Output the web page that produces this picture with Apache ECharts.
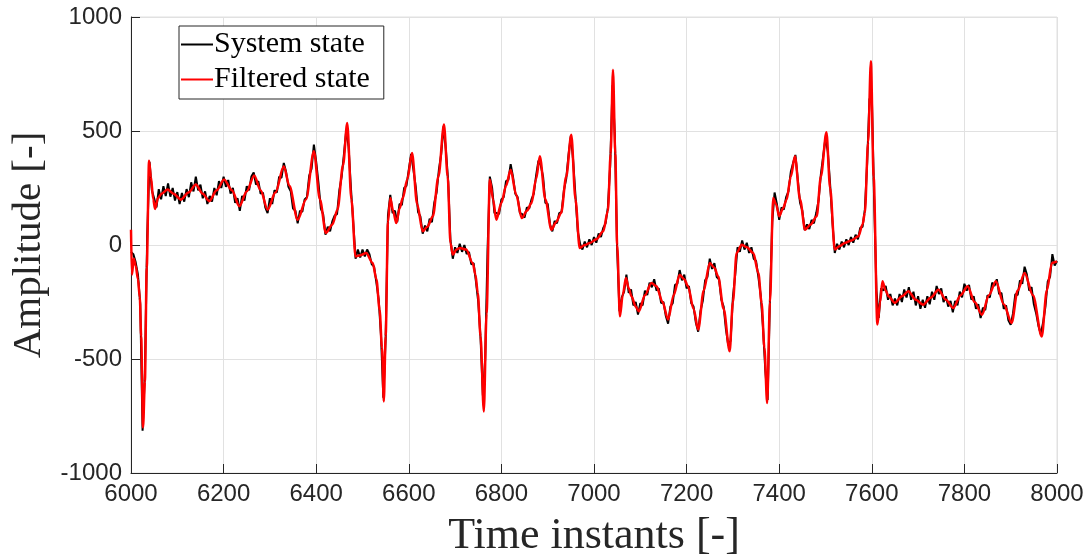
<!DOCTYPE html>
<html>
<head>
<meta charset="utf-8">
<script src="https://cdn.jsdelivr.net/npm/echarts@6/dist/echarts.min.js"></script>
<style>
html,body{margin:0;padding:0;background:#fff;}
#chart{width:1092px;height:560px;}
</style>
</head>
<body>
<div id="chart"></div>
<script>
// ---- data ----
const X_TICKS = [6000, 6200, 6400, 6600, 6800, 7000, 7200, 7400, 7600, 7800, 8000];
const Y_TICKS = [-1000, -500, 0, 500, 1000];
const SERIES_NAMES = ['System state', 'Filtered state'];

// System state: one sample every 5 time instants, from 6000 to 8000
const SYS_START = 6000;
const SYS_STEP = 5;
const SYS_VALUES = [
  -30,-40,-75,-130,-260,-815,-560,40,365,240,205,165,245,200,258,215,270,212,250,195,
  232,180,228,190,245,210,275,235,300,240,265,205,235,180,215,190,250,218,280,250,
  300,255,285,225,250,185,205,150,215,195,258,240,300,318,265,280,225,230,165,140,
  205,180,240,230,300,295,360,320,255,235,160,150,95,150,145,200,210,305,335,440,
  365,270,160,135,45,80,60,105,130,135,240,300,400,505,430,250,100,-60,-20,-55,
  -20,-50,-20,-40,-85,-95,-165,-240,-400,-670,-410,130,220,140,150,100,180,175,250,260,
  330,400,330,255,145,125,50,85,60,115,100,185,230,330,400,520,420,280,20,-60,
  -10,-35,5,-30,0,-40,-30,-85,-80,-160,-250,-410,-660,-500,-30,300,250,140,140,135,
  200,210,280,285,355,300,225,210,140,135,120,165,160,200,225,305,370,350,300,185,
  180,90,60,105,95,140,145,240,290,395,480,370,215,60,5,-20,15,-10,25,0,
  35,10,50,35,75,95,165,350,700,480,-20,-290,-230,-205,-130,-210,-195,-265,-250,-305,
  -255,-265,-200,-220,-165,-185,-150,-200,-190,-255,-250,-310,-345,-270,-255,-175,-170,-110,-155,-130,
  -190,-180,-255,-270,-340,-380,-290,-245,-155,-140,-60,-105,-80,-140,-150,-240,-270,-370,-440,-420,
  -230,-130,-10,-30,20,-20,10,-35,-10,-60,-70,-140,-220,-360,-550,-680,-240,100,230,180,
  110,165,155,210,235,320,360,395,290,185,150,65,90,70,110,95,140,195,310,390,
  470,410,265,100,-35,5,-20,15,-10,25,0,35,10,45,25,75,80,155,360,640,
  660,200,-200,-320,-190,-200,-180,-240,-215,-265,-235,-265,-215,-250,-195,-230,-185,-240,-205,-265,
  -225,-280,-240,-275,-225,-260,-205,-240,-180,-215,-190,-250,-225,-270,-245,-295,-245,-265,-205,-230,
  -170,-200,-175,-240,-225,-280,-260,-320,-275,-285,-220,-230,-165,-180,-150,-215,-210,-280,-265,-330,
  -350,-300,-215,-220,-155,-170,-95,-130,-200,-185,-260,-300,-355,-390,-340,-270,-160,-140,-40,-90,
  -70
];

// Filtered state: read at its turning points
const FILT_T = [
  6000,6002,6006,6010,6015,6019,6022,6026,6030,6034,6039,6043,6048,6052,6058,6066,6079,6092,6108,6124,
  6140,6155,6169,6185,6201,6218,6234,6250,6266,6280,6295,6312,6330,6342,6360,6378,6395,6408,6421,6435,
  6446,6458,6467,6476,6485,6495,6508,6522,6530,6537,6542,6546,6550,6555,6560,6566,6573,6580,6587,6597,
  6607,6618,6630,6640,6652,6664,6676,6684,6690,6695,6703,6710,6724,6738,6744,6749,6755,6762,6768,6775,
  6782,6789,6800,6810,6820,6832,6844,6855,6865,6875,6883,6895,6908,6918,6929,6940,6951,6960,6969,6980,
  6991,7005,7020,7030,7036,7041,7046,7050,7056,7062,7069,7075,7081,7090,7097,7110,7124,7135,7148,7160,
  7172,7185,7195,7203,7215,7225,7237,7250,7260,7268,7280,7293,7300,7308,7319,7330,7344,7355,7362,7368,
  7374,7380,7387,7393,7400,7408,7416,7425,7434,7445,7456,7468,7481,7490,7502,7510,7520,7530,7542,7556,
  7571,7580,7585,7592,7598,7604,7612,7618,7623,7630,7636,7650,7665,7679,7695,7711,7728,7744,7760,7776,
  7792,7807,7822,7838,7853,7868,7885,7902,7915,7930,7948,7967,7978,7989,8000
];
const FILT_V = [
  67,-130,-60,-90,-150,-230,-400,-800,-600,-100,370,300,200,158,205,225,243,225,199,230,
  265,225,192,240,287,240,170,235,305,240,155,230,345,260,111,200,411,200,53,90,
  155,350,535,200,-50,-45,-35,-79,-150,-284,-450,-686,-400,100,206,150,96,160,206,290,
  403,180,60,80,126,300,528,300,9,-42,-20,-13,-20,-79,-130,-210,-400,-730,-300,287,
  200,111,184,260,330,220,118,150,184,290,389,200,67,100,140,300,484,200,-13,0,
  9,25,60,150,400,769,400,0,-313,-220,-145,-190,-225,-270,-291,-220,-167,-181,-250,-327,
  -220,-130,-150,-181,-280,-371,-200,-79,-100,-137,-280,-466,-250,-35,1,-10,-35,-123,-254,-450,
  -693,-250,206,180,126,160,199,300,389,200,67,90,126,300,494,250,-20,-5,9,20,
  38,90,140,450,806,300,-349,-250,-159,-200,-225,-254,-225,-203,-240,-262,-230,-196,-240,-276,
  -220,-181,-250,-306,-220,-159,-260,-342,-200,-123,-220,-401,-200,-79,-72
];

// ---- build series data ----
const sysData = SYS_VALUES.map((v, i) => [SYS_START + i * SYS_STEP, v]);
const filtData = FILT_T.map((t, i) => [t, FILT_V[i]]);

const AXIS_COLOR = '#262626';
const GRID_COLOR = '#e1e1e1';
const SANS = '"Liberation Sans", Arial, Helvetica, sans-serif';
const SERIF = '"Liberation Serif", "Times New Roman", serif';

const chart = echarts.init(document.getElementById('chart'), null, {renderer: 'canvas'});
chart.setOption({
  animation: false,
  backgroundColor: '#ffffff',
  grid: {
    left: 131, right: 35, top: 17, bottom: 87,
    containLabel: false, outerBoundsMode: 'none',
    show: true, borderColor: GRID_COLOR, borderWidth: 1
  },
  legend: {
    data: [
      {name: SERIES_NAMES[0], icon: 'rect', itemStyle: {color: '#000000'}},
      {name: SERIES_NAMES[1], icon: 'rect', itemStyle: {color: '#ff0000'}}
    ],
    orient: 'vertical',
    left: 179, top: 26,
    itemWidth: 32, itemHeight: 2, itemGap: 2,
    padding: [2, 14, 3, 2],
    borderColor: AXIS_COLOR, borderWidth: 1,
    backgroundColor: '#fff',
    textStyle: {fontFamily: SERIF, fontSize: 30, color: '#000', lineHeight: 33, padding: [0,0,0,-4]}
  },
  xAxis: {
    type: 'value', min: X_TICKS[0], max: X_TICKS[X_TICKS.length-1], interval: 200,
    name: 'Time instants [-]', nameLocation: 'middle', nameGap: 41,
    nameTextStyle: {fontFamily: SERIF, fontSize: 44, color: AXIS_COLOR},
    axisLine: {show: true, onZero: false, lineStyle: {color: AXIS_COLOR, width: 1}},
    axisTick: {show: true, inside: true, length: 9, lineStyle: {color: AXIS_COLOR}},
    axisLabel: {fontFamily: SANS, fontSize: 24, color: AXIS_COLOR, margin: 9,
                formatter: v => String(v)},
    splitLine: {show: true, lineStyle: {color: GRID_COLOR, width: 1}}
  },
  yAxis: {
    type: 'value', min: Y_TICKS[0], max: Y_TICKS[Y_TICKS.length-1], interval: 500,
    name: 'Amplitude [-]', nameLocation: 'middle', nameGap: 80,
    nameTextStyle: {fontFamily: SERIF, fontSize: 41, color: AXIS_COLOR},
    axisLine: {show: true, onZero: false, lineStyle: {color: AXIS_COLOR, width: 1}},
    axisTick: {show: true, inside: true, length: 9, lineStyle: {color: AXIS_COLOR}},
    axisLabel: {fontFamily: SANS, fontSize: 24, color: AXIS_COLOR, margin: 9,
                formatter: v => String(v)},
    splitLine: {show: true, lineStyle: {color: GRID_COLOR, width: 1}}
  },
  series: [
    {
      name: SERIES_NAMES[0], type: 'line', data: sysData,
      symbol: 'none', showSymbol: false,
      lineStyle: {color: '#000000', width: 2},
      itemStyle: {color: '#000000'},
      z: 2
    },
    {
      name: SERIES_NAMES[1], type: 'line', data: filtData,
      symbol: 'none', showSymbol: false, smooth: 0.3, smoothMonotone: 'x',
      lineStyle: {color: '#ff0000', width: 2.5},
      itemStyle: {color: '#ff0000'},
      z: 3
    }
  ]
});
</script>
</body>
</html>
